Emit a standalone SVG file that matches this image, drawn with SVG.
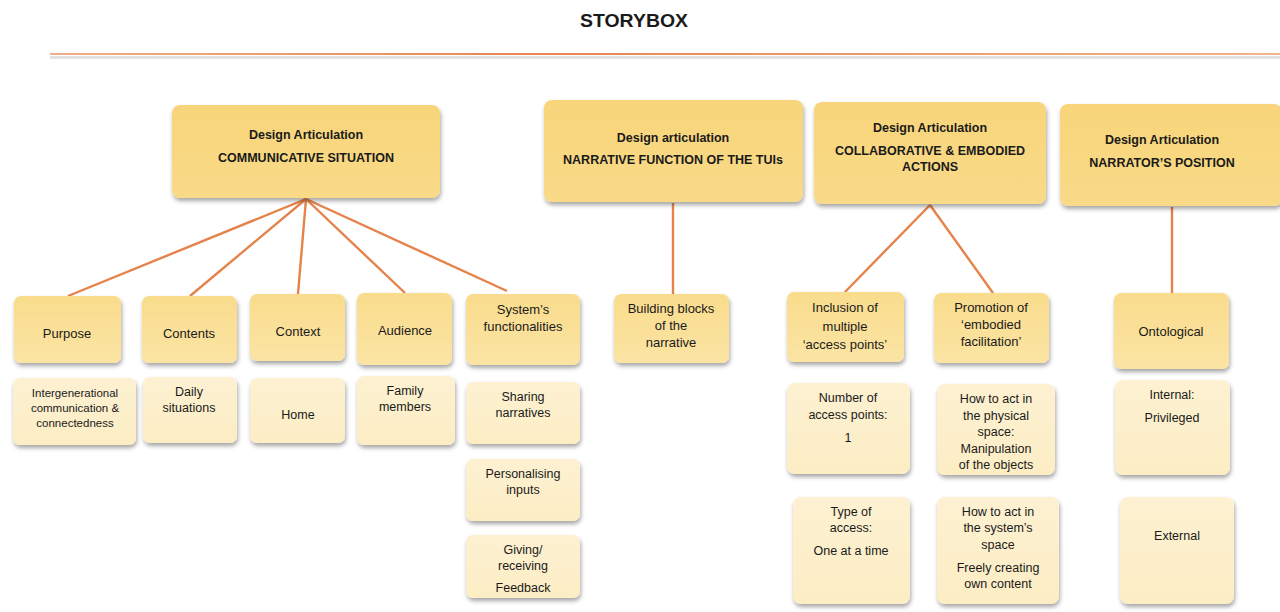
<svg xmlns="http://www.w3.org/2000/svg" width="1280" height="612" viewBox="0 0 1280 612">
<defs>
<filter id="sh" x="-10%" y="-10%" width="130%" height="140%">
<feDropShadow dx="1" dy="3" stdDeviation="2" flood-color="#000" flood-opacity="0.35"/>
</filter>
<linearGradient id="g1" x1="0" y1="0" x2="0" y2="1"><stop offset="0" stop-color="#F8D57A"/><stop offset="1" stop-color="#F9DA88"/></linearGradient>
<linearGradient id="g2" x1="0" y1="0" x2="0" y2="1"><stop offset="0" stop-color="#F9DC8C"/><stop offset="1" stop-color="#FBE4A4"/></linearGradient>
<linearGradient id="g3" x1="0" y1="0" x2="0" y2="1"><stop offset="0" stop-color="#FDF1D2"/><stop offset="1" stop-color="#FCEDC4"/></linearGradient>
<linearGradient id="hl" gradientUnits="userSpaceOnUse" x1="50" y1="0" x2="1280" y2="0"><stop offset="0" stop-color="#EDB08A"/><stop offset="0.4" stop-color="#E8874F"/><stop offset="1" stop-color="#EFB58E"/></linearGradient>
</defs>
<style>
text{font-family:"Liberation Sans",Arial,sans-serif;fill:#1a1a1a;text-anchor:middle}
.h{font-weight:bold;font-size:12.5px}
.l2{font-size:13px}
.l3{font-size:12.5px}
.s{font-size:11.5px}
.b1{fill:url(#g1);filter:url(#sh)}
.b2{fill:url(#g2);filter:url(#sh)}
.b3{fill:url(#g3);filter:url(#sh)}
.c{stroke:#E5834A;stroke-width:2.4;fill:none}
</style>
<text x="634" y="27" style="font-weight:bold;font-size:19px" textLength="108" lengthAdjust="spacingAndGlyphs">STORYBOX</text>
<rect x="50" y="56" width="1230" height="3" fill="#E2E2E2"/>
<rect x="50" y="53" width="1230" height="2" fill="url(#hl)"/>

<g id="connectors">
<line class="c" x1="306" y1="199" x2="68" y2="296"/>
<line class="c" x1="306" y1="199" x2="190" y2="296"/>
<line class="c" x1="306" y1="199" x2="298" y2="294"/>
<line class="c" x1="306" y1="199" x2="405" y2="293"/>
<line class="c" x1="306" y1="199" x2="507" y2="291"/>
<line class="c" x1="673" y1="203" x2="673" y2="294"/>
<line class="c" x1="930" y1="205" x2="845" y2="292"/>
<line class="c" x1="930" y1="205" x2="993" y2="293"/>
<line class="c" x1="1172" y1="207" x2="1172" y2="293"/>
</g>

<g id="n-comm"><rect class="b1" x="172" y="105" width="268" height="93" rx="8"/><text class="h" x="306" y="139">Design Articulation</text><text class="h" x="306" y="162">COMMUNICATIVE SITUATION</text></g>
<g id="n-narr"><rect class="b1" x="544" y="100" width="259" height="102" rx="8"/><text class="h" x="673" y="142">Design articulation</text><text class="h" x="673" y="164">NARRATIVE FUNCTION OF THE TUIs</text></g>
<g id="n-coll"><rect class="b1" x="814" y="102" width="232" height="102" rx="8"/><text class="h" x="930" y="132">Design Articulation</text><text class="h" x="930" y="155">COLLABORATIVE &amp; EMBODIED</text><text class="h" x="930" y="171">ACTIONS</text></g>
<g id="n-pos"><rect class="b1" x="1060" y="104" width="222" height="102" rx="8"/><text class="h" x="1162" y="144">Design Articulation</text><text class="h" x="1162" y="167">NARRATOR’S POSITION</text></g>

<g id="n-purpose"><rect class="b2" x="14" y="296" width="107" height="67" rx="7"/><text class="l2" x="67" y="338">Purpose</text></g>
<g id="n-contents"><rect class="b2" x="142" y="296" width="95" height="67" rx="7"/><text class="l2" x="189" y="338">Contents</text></g>
<g id="n-context"><rect class="b2" x="250" y="294" width="95" height="67" rx="7"/><text class="l2" x="298" y="336">Context</text></g>
<g id="n-audience"><rect class="b2" x="357" y="293" width="95" height="72" rx="7"/><text class="l2" x="405" y="335">Audience</text></g>
<g id="n-system"><rect class="b2" x="466" y="294" width="114" height="71" rx="7"/><text class="l2" x="523" y="314">System’s</text><text class="l2" x="523" y="331">functionalities</text></g>
<g id="n-building"><rect class="b2" x="614" y="294" width="115" height="69" rx="7"/><text class="l2" x="671" y="313">Building blocks</text><text class="l2" x="671" y="330">of the</text><text class="l2" x="671" y="347">narrative</text></g>
<g id="n-inclusion"><rect class="b2" x="787" y="292" width="117" height="70" rx="7"/><text class="l2" x="845" y="312">Inclusion of</text><text class="l2" x="845" y="331">multiple</text><text class="l2" x="845" y="349">‘access points’</text></g>
<g id="n-promotion"><rect class="b2" x="934" y="293" width="115" height="70" rx="7"/><text class="l2" x="991" y="312">Promotion of</text><text class="l2" x="991" y="329">‘embodied</text><text class="l2" x="991" y="346">facilitation’</text></g>
<g id="n-onto"><rect class="b2" x="1114" y="293" width="115" height="76" rx="7"/><text class="l2" x="1171" y="336">Ontological</text></g>

<g id="n-inter"><rect class="b3" x="13" y="378" width="123" height="67" rx="7"/><text class="s" x="75" y="397">Intergenerational</text><text class="s" x="75" y="412">communication &amp;</text><text class="s" x="75" y="427">connectedness</text></g>
<g id="n-daily"><rect class="b3" x="143" y="377" width="94" height="66" rx="7"/><text class="l3" x="189" y="396">Daily</text><text class="l3" x="189" y="412">situations</text></g>
<g id="n-home"><rect class="b3" x="250" y="378" width="95" height="65" rx="7"/><text class="l3" x="298" y="419">Home</text></g>
<g id="n-family"><rect class="b3" x="357" y="376" width="98" height="69" rx="7"/><text class="l3" x="405" y="395">Family</text><text class="l3" x="405" y="411">members</text></g>
<g id="n-sharing"><rect class="b3" x="466" y="382" width="114" height="62" rx="7"/><text class="l3" x="523" y="401">Sharing</text><text class="l3" x="523" y="417">narratives</text></g>
<g id="n-personal"><rect class="b3" x="466" y="459" width="114" height="62" rx="7"/><text class="l3" x="523" y="478">Personalising</text><text class="l3" x="523" y="494">inputs</text></g>
<g id="n-giving"><rect class="b3" x="466" y="535" width="114" height="63" rx="7"/><text class="l3" x="523" y="554">Giving/</text><text class="l3" x="523" y="570">receiving</text><text class="l3" x="523" y="592">Feedback</text></g>
<g id="n-number"><rect class="b3" x="787" y="383" width="123" height="91" rx="8"/><text class="l3" x="848" y="402">Number of</text><text class="l3" x="848" y="419">access points:</text><text class="l3" x="848" y="442">1</text></g>
<g id="n-physical"><rect class="b3" x="937" y="384" width="118" height="91" rx="8"/><text class="l3" x="996" y="403">How to act  in</text><text class="l3" x="996" y="420">the physical</text><text class="l3" x="996" y="436">space:</text><text class="l3" x="996" y="453">Manipulation</text><text class="l3" x="996" y="469">of the objects</text></g>
<g id="n-type"><rect class="b3" x="793" y="497" width="117" height="107" rx="8"/><text class="l3" x="851" y="516">Type of</text><text class="l3" x="851" y="532">access:</text><text class="l3" x="851" y="555">One at a time</text></g>
<g id="n-sysspace"><rect class="b3" x="937" y="497" width="122" height="107" rx="8"/><text class="l3" x="998" y="516">How to act in</text><text class="l3" x="998" y="532">the system’s</text><text class="l3" x="998" y="549">space</text><text class="l3" x="998" y="572">Freely creating</text><text class="l3" x="998" y="588">own content</text></g>
<g id="n-internal"><rect class="b3" x="1115" y="380" width="115" height="95" rx="8"/><text class="l3" x="1172" y="399">Internal:</text><text class="l3" x="1172" y="422">Privileged</text></g>
<g id="n-external"><rect class="b3" x="1120" y="497" width="114" height="107" rx="8"/><text class="l3" x="1177" y="540">External</text></g>
</svg>
